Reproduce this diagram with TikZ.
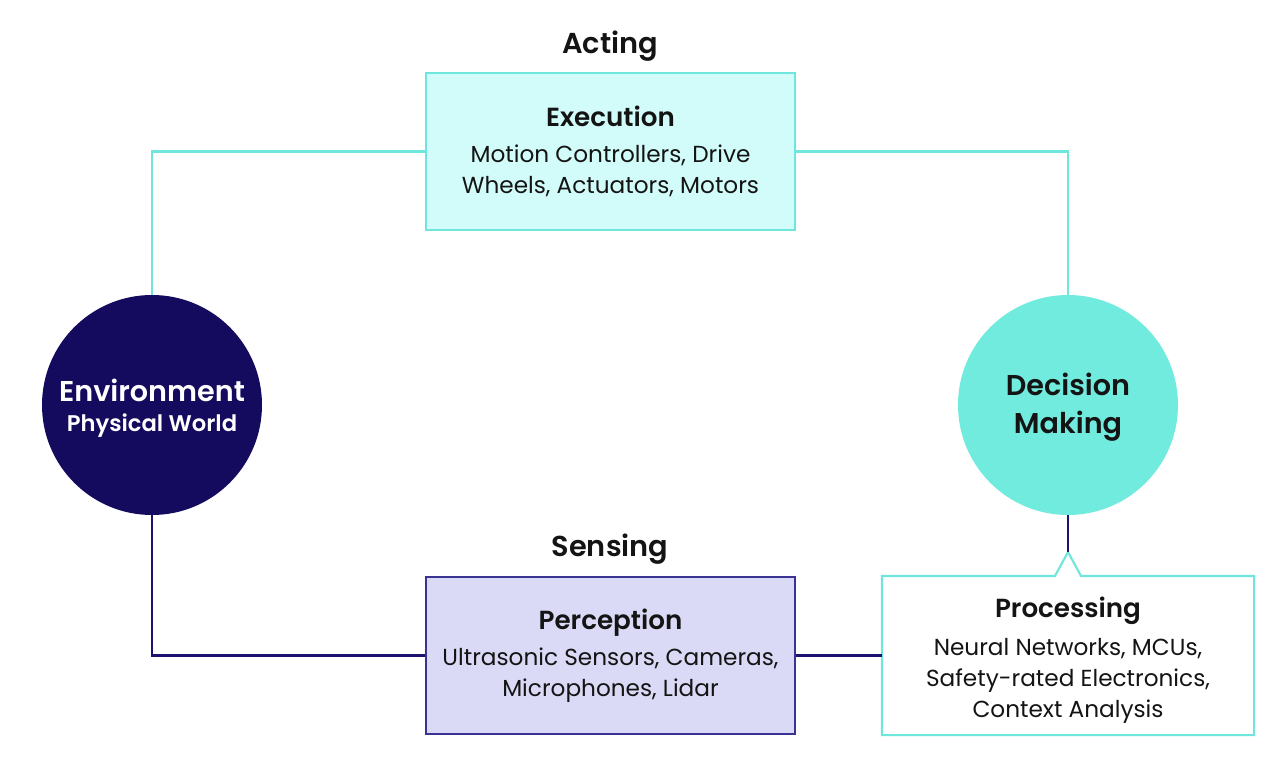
\documentclass[tikz,border=0pt]{standalone}
\usepackage{fontspec}
\setmainfont{Poppins}
\newfontfamily\popb{Poppins}
\newfontfamily\popbold{Poppins SemiBold}
\definecolor{navy}{HTML}{140A5E}
\definecolor{navyline}{HTML}{1C1270}
\definecolor{tealline}{HTML}{6EE6DC}
\definecolor{tealfill}{HTML}{72EBDF}
\definecolor{execfill}{HTML}{D2FCF9}
\definecolor{percfill}{HTML}{DAD9F6}
\definecolor{percline}{HTML}{3A3394}
\definecolor{ink}{HTML}{141414}
\tikzset{
  body/.style={font=\popb\fontsize{13.2}{17.6}\selectfont, text=ink, align=center},
  boxnode/.style={body, minimum width=369*0.02cm, minimum height=157*0.02cm, line width=1.2pt, inner sep=0pt},
  ring/.style={circle, minimum size=220*0.02cm, inner sep=0pt, align=center},
  tl/.style={line width=1.5pt, draw=tealline},
  nl/.style={line width=1.5pt, draw=navyline},
  head/.style={font=\popbold\fontsize{16.4}{19}\selectfont, text=ink}
}
\newcommand{\ttl}[1]{{\popbold\fontsize{14.9}{17}\selectfont #1}}
\begin{document}
\begin{tikzpicture}[x=0.02cm,y=-0.02cm]
\useasboundingbox (0,0) rectangle (1282,764);
% nodes
\node[ring, fill=navy] (env) at (152,405) {};
\node[text=white, align=center] (envtxt) at (152,408)
  {{\popbold\fontsize{16.3}{19}\selectfont Environment}\\[5pt]{\popbold\fontsize{12.9}{15}\selectfont Physical World}};
\node[ring, fill=tealfill] (dec) at (1068,405) {};
\node[text=ink, align=center, font=\popbold\fontsize{16.3}{21.5}\selectfont] (dectxt) at (1068,407)
  {Decision\\ Making};
\node[boxnode, draw=tealline, fill=execfill] (exec) at (610.5,151.5)
  {\ttl{Execution}\\[3pt] Motion Controllers, Drive\\ Wheels, Actuators, Motors};
\node[boxnode, draw=percline, fill=percfill] (perc) at (610.5,655.5)
  {\ttl{Perception}\\[3pt] Ultrasonic Sensors, Cameras,\\ Microphones, Lidar};
\node[boxnode, draw=none, minimum width=370*0.02cm] (proc) at (1068,655.5) {};
\node[body] (proctxt) at (1068,660.5)
  {\ttl{Processing}\\[4pt] Neural Networks, MCUs,\\ Safety-rated Electronics,\\ Context Analysis};
\coordinate (tip) at (1068,552);
\draw[line width=1.2pt, draw=tealline, line join=miter]
  (proc.north west) -- ([xshift=-13*0.02cm]proc.north) -- (tip) -- ([xshift=13*0.02cm]proc.north) -- (proc.north east) -- (proc.south east) -- (proc.south west) -- cycle;
\node[head] (acting) at (610,46) {Acting};
\node[head] (sensing) at (610,549) {Sensing};
% connectors
\draw[tl] (env.north) |- (exec.west);
\draw[tl] (exec.east) -| (dec.north);
\draw[nl] (env.south) |- (perc.west);
\draw[nl] (perc.east) -- (proc.west);
\draw[nl] (dec.south) -- (tip);
\end{tikzpicture}
\end{document}
